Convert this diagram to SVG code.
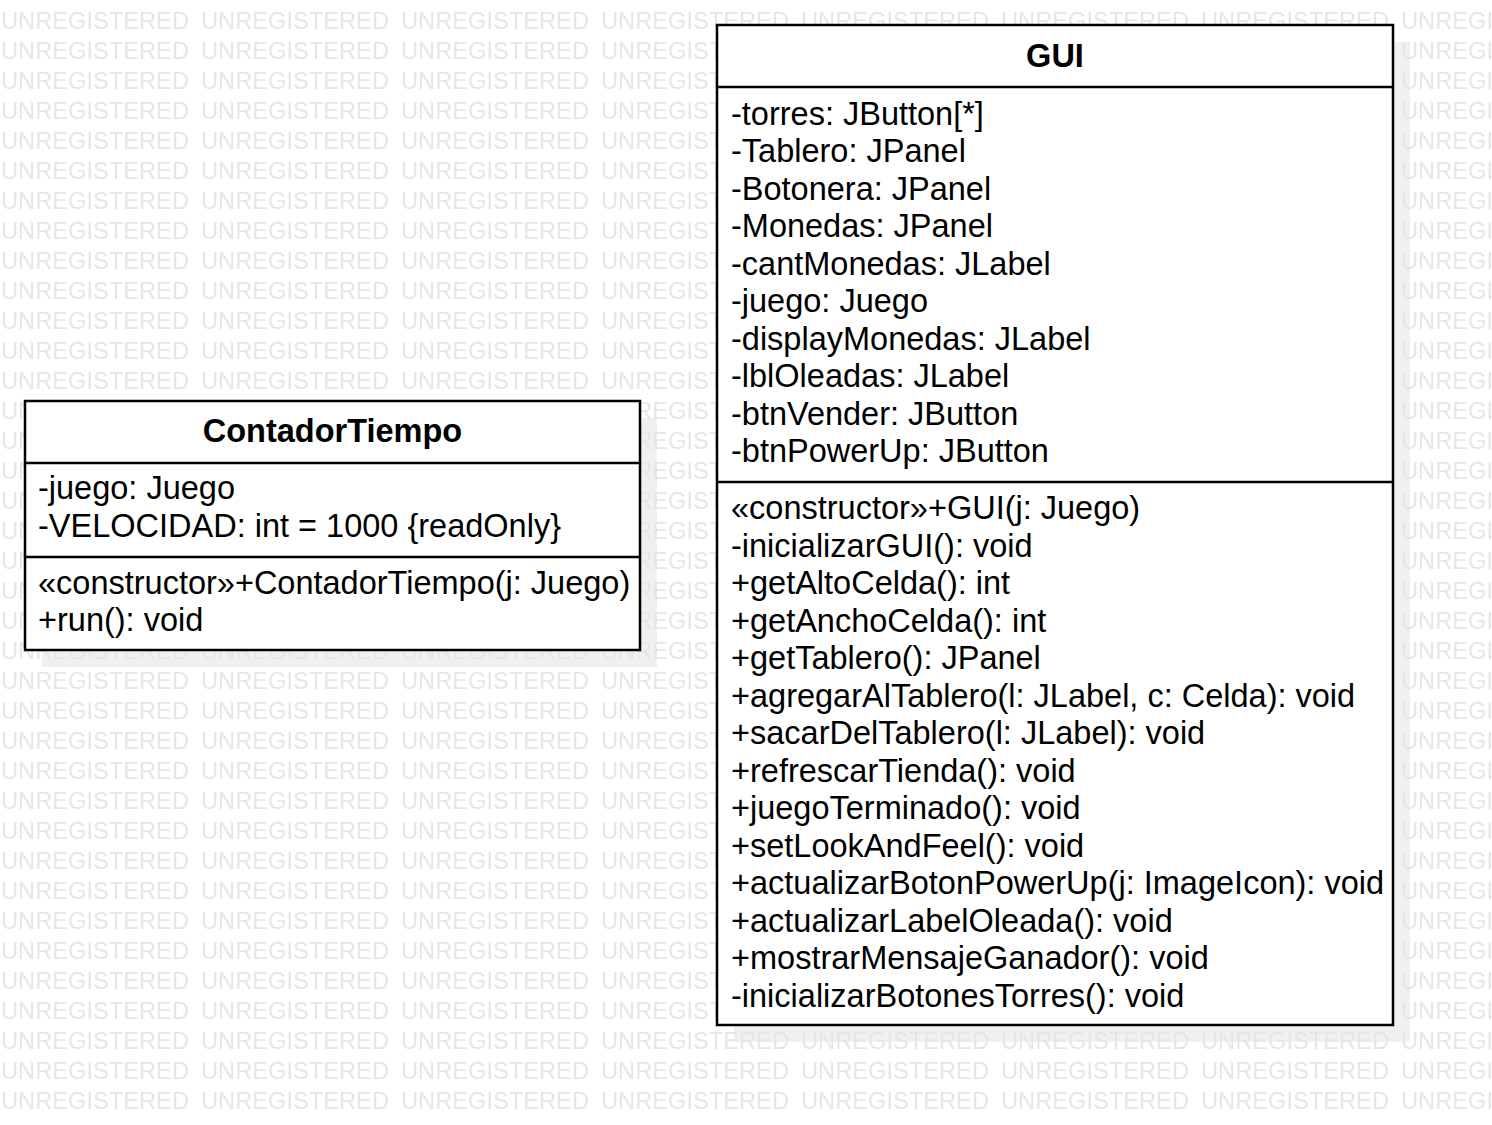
<svg xmlns="http://www.w3.org/2000/svg" width="1492" height="1125" viewBox="0 0 1492 1125">
<style>
.wm{font-family:"Liberation Sans",Arial,sans-serif;font-size:23px;fill:#e6e6e6}
.shadow{fill:#f0f0f0}
.box{fill:#ffffff;stroke:#000000;stroke-width:2.5}
.div{stroke:#000000;stroke-width:2.5}
.title{font-family:"Liberation Sans",Arial,sans-serif;font-size:32.5px;font-weight:bold;fill:#000;text-anchor:middle}
.t{font-family:"Liberation Sans",Arial,sans-serif;font-size:32.5px;fill:#000}
</style>
<defs>
<pattern id="wmp" x="0" y="0" width="200" height="30" patternUnits="userSpaceOnUse">
<text class="wm" x="1" y="29" textLength="188" lengthAdjust="spacingAndGlyphs">UNREGISTERED</text>
</pattern>
</defs>
<rect width="1492" height="1125" fill="#ffffff"/>
<rect class="shadow" x="42" y="418" width="615" height="249"/>
<rect class="shadow" x="734" y="42" width="676" height="1000"/>
<rect x="0" y="0" width="1492" height="1112" fill="url(#wmp)"/>
<g id="connectors"></g>
<g id="ContadorTiempo">
<rect class="box" x="25" y="401" width="615" height="249"/>
<line class="div" x1="25" y1="463" x2="640" y2="463"/>
<line class="div" x1="25" y1="557" x2="640" y2="557"/>
<text class="title" x="332.5" y="442">ContadorTiempo</text>
<text class="t" x="38" y="499">-juego: Juego</text>
<text class="t" x="38" y="536.5">-VELOCIDAD: int = 1000 {readOnly}</text>
<text class="t" x="38" y="593.5">«constructor»+ContadorTiempo(j: Juego)</text>
<text class="t" x="38" y="631">+run(): void</text>
</g>
<g id="GUI">
<rect class="box" x="717" y="25" width="676" height="1000"/>
<line class="div" x1="717" y1="87" x2="1393" y2="87"/>
<line class="div" x1="717" y1="482" x2="1393" y2="482"/>
<text class="title" x="1055" y="66.5">GUI</text>
<text class="t" x="731" y="124.5">-torres: JButton[*]</text>
<text class="t" x="731" y="162">-Tablero: JPanel</text>
<text class="t" x="731" y="199.5">-Botonera: JPanel</text>
<text class="t" x="731" y="237">-Monedas: JPanel</text>
<text class="t" x="731" y="274.5">-cantMonedas: JLabel</text>
<text class="t" x="731" y="312">-juego: Juego</text>
<text class="t" x="731" y="349.5">-displayMonedas: JLabel</text>
<text class="t" x="731" y="387">-lblOleadas: JLabel</text>
<text class="t" x="731" y="424.5">-btnVender: JButton</text>
<text class="t" x="731" y="462">-btnPowerUp: JButton</text>
<text class="t" x="731" y="519">«constructor»+GUI(j: Juego)</text>
<text class="t" x="731" y="556.5">-inicializarGUI(): void</text>
<text class="t" x="731" y="594">+getAltoCelda(): int</text>
<text class="t" x="731" y="631.5">+getAnchoCelda(): int</text>
<text class="t" x="731" y="669">+getTablero(): JPanel</text>
<text class="t" x="731" y="706.5">+agregarAlTablero(l: JLabel, c: Celda): void</text>
<text class="t" x="731" y="744">+sacarDelTablero(l: JLabel): void</text>
<text class="t" x="731" y="781.5">+refrescarTienda(): void</text>
<text class="t" x="731" y="819">+juegoTerminado(): void</text>
<text class="t" x="731" y="856.5">+setLookAndFeel(): void</text>
<text class="t" x="731" y="894">+actualizarBotonPowerUp(j: ImageIcon): void</text>
<text class="t" x="731" y="931.5">+actualizarLabelOleada(): void</text>
<text class="t" x="731" y="969">+mostrarMensajeGanador(): void</text>
<text class="t" x="731" y="1006.5">-inicializarBotonesTorres(): void</text>
</g>
</svg>
